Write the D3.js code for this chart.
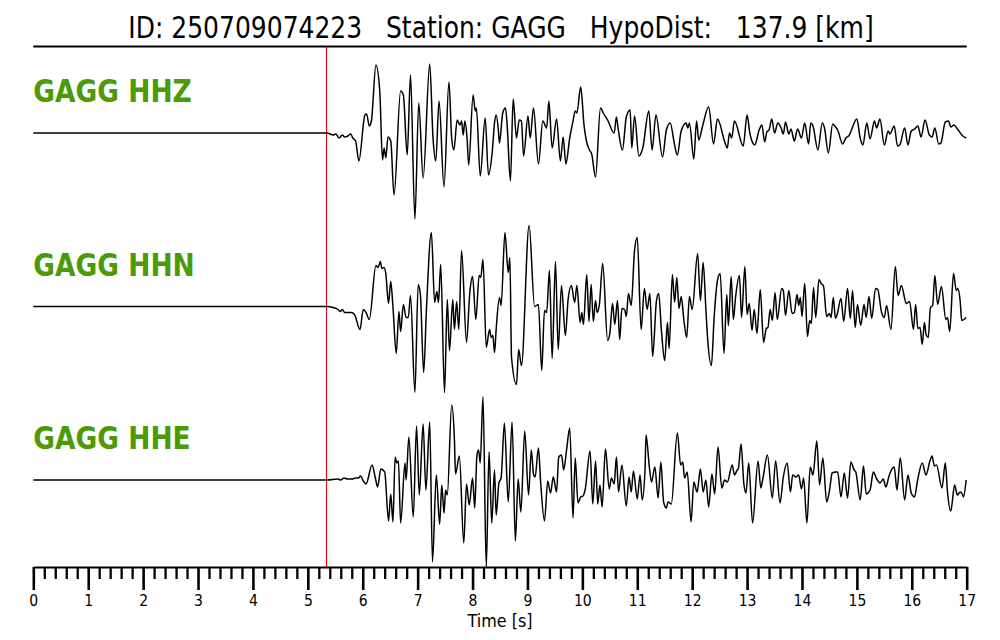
<!DOCTYPE html>
<html><head><meta charset="utf-8">
<script src="https://cdn.jsdelivr.net/npm/d3@7"></script>
<style>
html,body{margin:0;padding:0;background:#fff;}
svg{display:block;font-family:"DejaVu Sans",sans-serif;}
</style></head>
<body><svg id="chart" width="1000" height="640"></svg>
<script>
// ---------------- data ----------------
const titleText = "ID: 250709074223   Station: GAGG   HypoDist:   137.9 [km]";
const station = "GAGG";
const channels = ["HHZ", "HHN", "HHE"];
const pickTime = 5.34;               // P pick [s]
const timeDomain = [0, 17];
const majorTicks = [0,1,2,3,4,5,6,7,8,9,10,11,12,13,14,15,16,17];
const xLabel = "Time [s]";

// [time s, amplitude counts]
const hhz = [[0,0],[5.35,0],[5.46,-2],[5.51,-1],[5.57,-5],[5.63,-2],[5.67,-4],[5.73,-3],[5.78,-1],[5.82,-5],[5.87,-8],[5.93,-28],[6.04,18],[6.07,19],[6.12,7],[6.16,13],[6.24,68],[6.31,42],[6.36,-27],[6.39,-15],[6.42,-25],[6.46,-4],[6.51,-8],[6.57,-62],[6.69,42],[6.74,38],[6.81,-22],[6.87,58],[6.95,-86],[7.02,30],[7.10,-45],[7.22,69],[7.28,-5],[7.33,-28],[7.39,32],[7.48,-54],[7.57,51],[7.62,-5],[7.66,-17],[7.72,13],[7.77,8],[7.80,12],[7.83,-2],[7.86,12],[7.90,-5],[7.93,-32],[8.01,38],[8.05,22],[8.07,25],[8.14,-43],[8.23,15],[8.29,-42],[8.36,-18],[8.40,10],[8.43,18],[8.47,3],[8.49,-10],[8.55,20],[8.60,25],[8.63,8],[8.69,-48],[8.74,34],[8.80,-5],[8.85,13],[8.89,12],[8.93,-23],[9.01,17],[9.05,-5],[9.11,25],[9.20,-31],[9.28,12],[9.35,5],[9.39,32],[9.45,-15],[9.53,14],[9.60,-28],[9.65,-4],[9.70,-31],[9.77,-5],[9.83,12],[9.87,22],[9.90,20],[9.97,46],[10.03,8],[10.07,-7],[10.13,-17],[10.17,-21],[10.24,-44],[10.33,25],[10.38,20],[10.46,13],[10.58,0],[10.62,16],[10.65,5],[10.73,-17],[10.80,16],[10.87,23],[10.90,-15],[10.95,17],[11.03,-23],[11.10,-15],[11.21,22],[11.27,-17],[11.34,18],[11.46,-24],[11.53,3],[11.60,10],[11.68,-12],[11.73,-22],[11.80,2],[11.89,10],[11.92,5],[11.95,10],[12.03,-26],[12.08,12],[12.12,-7],[12.19,7],[12.30,26],[12.39,-11],[12.46,14],[12.60,-10],[12.64,-15],[12.68,0],[12.72,-5],[12.77,12],[12.93,-13],[13.00,18],[13.05,0],[13.14,-12],[13.22,3],[13.27,8],[13.32,-9],[13.36,1],[13.40,3],[13.45,14],[13.50,0],[13.56,10],[13.62,5],[13.66,-1],[13.70,11],[13.76,-1],[13.80,4],[13.86,-8],[13.92,4],[13.99,-5],[14.05,10],[14.12,-11],[14.16,10],[14.20,7],[14.29,-17],[14.37,10],[14.41,5],[14.48,-20],[14.56,9],[14.61,6],[14.65,3],[14.74,-11],[14.80,-5],[14.85,-3],[15.00,14],[15.06,-5],[15.11,-12],[15.18,10],[15.24,-6],[15.32,12],[15.36,5],[15.42,14],[15.50,-12],[15.57,2],[15.60,-1],[15.68,7],[15.74,-13],[15.78,-12],[15.87,5],[15.93,-12],[15.99,2],[16.05,4],[16.11,7],[16.17,-4],[16.24,13],[16.32,-2],[16.37,-4],[16.42,5],[16.49,-11],[16.53,-10],[16.61,11],[16.67,12],[16.71,6],[16.77,8],[16.83,4],[16.93,-3],[16.99,-5]];

const hhn = [[0,0],[5.35,0],[5.46,-1],[5.55,-3],[5.59,-5],[5.63,-3],[5.67,-6],[5.73,-6],[5.79,-6],[5.85,-8],[5.95,-23],[6.01,-3],[6.06,-6],[6.12,-13],[6.24,41],[6.28,39],[6.32,45],[6.35,38],[6.39,39],[6.42,33],[6.47,3],[6.51,25],[6.55,0],[6.61,-47],[6.66,-5],[6.69,-25],[6.74,2],[6.79,-11],[6.83,-11],[6.87,11],[6.95,-86],[7.01,22],[7.05,12],[7.11,-66],[7.16,-3],[7.25,74],[7.31,4],[7.35,15],[7.38,4],[7.42,42],[7.49,-86],[7.54,7],[7.58,-44],[7.64,7],[7.67,-23],[7.71,5],[7.75,-23],[7.80,56],[7.89,-36],[7.95,14],[8.00,30],[8.06,-13],[8.12,31],[8.15,29],[8.19,47],[8.25,-41],[8.31,-23],[8.34,-31],[8.37,-29],[8.40,-46],[8.43,-23],[8.49,9],[8.52,1],[8.59,74],[8.65,34],[8.68,49],[8.71,-51],[8.80,-78],[8.84,-43],[8.89,-59],[9.03,81],[9.13,0],[9.20,2],[9.26,-64],[9.31,-4],[9.35,-6],[9.40,36],[9.45,-52],[9.51,45],[9.56,-43],[9.62,21],[9.69,-29],[9.74,7],[9.80,21],[9.86,4],[9.90,21],[9.96,-16],[9.99,-6],[10.02,-18],[10.08,32],[10.12,-15],[10.16,22],[10.20,-15],[10.24,6],[10.27,-6],[10.31,2],[10.37,43],[10.46,-34],[10.50,-27],[10.55,3],[10.59,-18],[10.64,6],[10.68,-33],[10.72,-2],[10.77,-3],[10.80,-10],[10.84,13],[10.89,1],[10.95,56],[11.00,69],[11.07,-23],[11.13,18],[11.18,-3],[11.23,13],[11.28,-50],[11.35,6],[11.39,13],[11.44,-24],[11.50,-54],[11.55,-16],[11.58,-42],[11.64,32],[11.68,4],[11.72,29],[11.76,-2],[11.80,10],[11.85,-14],[11.90,-31],[11.95,10],[12.00,-3],[12.10,53],[12.15,6],[12.20,44],[12.25,-3],[12.28,-31],[12.35,-59],[12.40,-11],[12.46,26],[12.51,33],[12.58,-47],[12.63,12],[12.66,-19],[12.71,30],[12.75,-13],[12.79,9],[12.86,31],[12.90,-11],[12.96,40],[13.00,-8],[13.04,3],[13.09,-24],[13.13,-3],[13.18,-27],[13.24,17],[13.30,-36],[13.35,-22],[13.38,-21],[13.42,-3],[13.46,-14],[13.51,14],[13.55,-13],[13.63,18],[13.66,16],[13.70,-9],[13.76,16],[13.82,-7],[13.86,-6],[13.91,12],[13.94,1],[13.97,9],[14.00,-10],[14.05,23],[14.10,-30],[14.14,-14],[14.17,-17],[14.21,19],[14.25,-11],[14.31,27],[14.35,23],[14.39,21],[14.45,-10],[14.50,-7],[14.53,-11],[14.57,9],[14.61,-12],[14.64,-8],[14.71,8],[14.76,-15],[14.83,18],[14.88,-12],[14.92,16],[14.97,-21],[15.01,2],[15.07,-19],[15.13,2],[15.17,-11],[15.22,10],[15.27,-12],[15.34,18],[15.38,17],[15.45,-6],[15.50,-11],[15.54,1],[15.62,-23],[15.70,40],[15.75,11],[15.81,21],[15.90,3],[15.96,5],[16.03,-23],[16.07,2],[16.11,-22],[16.15,-21],[16.19,-38],[16.23,-16],[16.26,-28],[16.30,-31],[16.34,-1],[16.38,1],[16.42,31],[16.47,2],[16.54,20],[16.62,-13],[16.65,-11],[16.69,-25],[16.76,33],[16.81,16],[16.84,18],[16.88,6],[16.91,-14],[16.95,-13],[16.99,-11]];

const hhe = [[0,0],[5.35,0],[5.55,1],[5.60,0],[5.66,2],[5.72,1],[5.80,1],[5.88,2],[5.92,2],[5.96,4],[6.01,-1],[6.06,-4],[6.17,15],[6.23,2],[6.27,-7],[6.33,11],[6.40,8],[6.47,-41],[6.51,-14],[6.55,-42],[6.59,23],[6.62,17],[6.65,19],[6.69,-43],[6.77,17],[6.79,0],[6.84,43],[6.92,-37],[6.98,54],[7.03,-15],[7.10,56],[7.15,-10],[7.22,58],[7.27,-82],[7.34,5],[7.40,-44],[7.44,-5],[7.48,-33],[7.51,-10],[7.54,-15],[7.62,75],[7.67,40],[7.69,6],[7.76,24],[7.84,-63],[7.89,-4],[7.94,-25],[8.00,2],[8.04,-28],[8.08,25],[8.11,30],[8.14,17],[8.19,83],[8.25,-87],[8.30,28],[8.35,-43],[8.40,10],[8.43,-35],[8.48,-3],[8.52,2],[8.58,57],[8.65,-22],[8.72,58],[8.78,-61],[8.83,1],[8.88,-32],[8.95,49],[9.02,-15],[9.07,30],[9.11,6],[9.14,3],[9.20,32],[9.24,-2],[9.31,-41],[9.37,-1],[9.42,-13],[9.47,3],[9.53,-12],[9.57,23],[9.62,25],[9.66,10],[9.71,29],[9.77,52],[9.83,-38],[9.87,22],[9.92,-23],[9.97,-17],[10.01,-16],[10.05,-10],[10.14,29],[10.19,-24],[10.24,19],[10.28,-24],[10.32,-5],[10.36,-27],[10.42,31],[10.49,-9],[10.53,2],[10.58,-4],[10.62,23],[10.66,-12],[10.72,15],[10.80,-26],[10.85,3],[10.89,-12],[10.93,9],[11.00,-19],[11.05,5],[11.09,-20],[11.14,9],[11.16,45],[11.22,13],[11.26,-2],[11.32,13],[11.38,-18],[11.43,18],[11.48,-22],[11.53,-28],[11.56,-22],[11.62,-24],[11.73,47],[11.79,15],[11.83,18],[11.86,2],[11.91,8],[11.98,-42],[12.03,-2],[12.09,-12],[12.15,11],[12.20,-12],[12.25,0],[12.30,-27],[12.36,6],[12.41,-14],[12.47,33],[12.54,-8],[12.59,0],[12.64,-2],[12.73,15],[12.77,5],[12.82,10],[12.84,11],[12.89,36],[12.94,-3],[12.98,-13],[13.03,17],[13.10,-43],[13.20,19],[13.25,-8],[13.29,2],[13.37,25],[13.46,-18],[13.52,19],[13.60,-23],[13.66,3],[13.73,17],[13.79,-12],[13.83,5],[13.89,3],[13.94,5],[13.99,-9],[14.03,2],[14.09,-43],[14.15,13],[14.20,5],[14.27,39],[14.32,-5],[14.38,22],[14.45,-22],[14.50,-11],[14.55,7],[14.61,8],[14.65,8],[14.71,-17],[14.77,7],[14.83,-18],[14.89,18],[14.95,10],[14.98,8],[15.06,-20],[15.12,14],[15.17,-14],[15.24,-10],[15.30,8],[15.36,1],[15.42,-3],[15.48,1],[15.53,-7],[15.58,3],[15.62,9],[15.68,13],[15.73,-10],[15.79,22],[15.87,-20],[15.93,5],[15.99,-13],[16.05,-17],[16.10,-2],[16.19,17],[16.26,5],[16.33,19],[16.37,24],[16.41,14],[16.45,15],[16.55,-8],[16.61,17],[16.65,-12],[16.71,-31],[16.78,-5],[16.83,-15],[16.88,-12],[16.92,-14],[16.94,-17],[16.99,0]];

const traces = {HHZ: hhz, HHN: hhn, HHE: hhe};

// ---------------- drawing ----------------
const svg = d3.select("#chart");
const W = 1000, H = 640;
const left = 33.3, right = 966.7;
const axisY = 567, ruleY = 46.5;
const stretchY = 1.2;   // glyphs in the reference are vertically stretched

const x = d3.scaleLinear().domain(timeDomain).range([left, right]);
const yBase = d3.scalePoint().domain(channels).range([133, 480]);
const amp = d3.scaleLinear().domain([-100, 100]).range([100, -100]);

svg.append("rect").attr("width", W).attr("height", H).attr("fill", "#fff");

function stretchedText(px, py, sy) {
  return `translate(${px},${py}) scale(1,${sy || stretchY})`;
}

// title
svg.append("text")
  .attr("transform", stretchedText(501, 37.5))
  .attr("text-anchor", "middle")
  .attr("font-size", 25)
  .attr("fill", "#000")
  .style("white-space", "pre")
  .attr("xml:space", "preserve")
  .text(titleText);

svg.append("line")
  .attr("x1", left).attr("x2", right)
  .attr("y1", ruleY).attr("y2", ruleY)
  .attr("stroke", "#000").attr("stroke-width", 1.8);

// pick line
svg.append("line")
  .attr("x1", x(pickTime)).attr("x2", x(pickTime))
  .attr("y1", ruleY).attr("y2", axisY)
  .attr("stroke", "#e8000b").attr("stroke-width", 1.1);

// traces
const line = d3.line()
  .x(d => x(d[0]))
  .curve(d3.curveMonotoneX);

channels.forEach(ch => {
  const b = yBase(ch);
  svg.append("path")
    .datum(traces[ch])
    .attr("fill", "none")
    .attr("stroke", "#000")
    .attr("stroke-width", 1.5)
    .attr("stroke-linejoin", "round")
    .attr("d", line.y(d => b + amp(d[1])));
  svg.append("text")
    .attr("transform", stretchedText(left, b - 31))
    .attr("font-size", 26.5)
    .attr("font-weight", "bold")
    .attr("fill", "#4b9a06")
    .text(station + " " + ch);
});

// axis
const minorTicks = d3.range(0, 85 + 1).map(i => i * 0.2).filter(v => Math.abs(v - Math.round(v)) > 1e-6);
const gMinor = svg.append("g").attr("transform", `translate(0,${axisY})`)
  .call(d3.axisBottom(x).tickValues(minorTicks).tickSize(12).tickSizeOuter(0).tickFormat(""));
gMinor.select(".domain").remove();
gMinor.selectAll(".tick line").attr("stroke-width", 2.3);

const gMajor = svg.append("g").attr("transform", `translate(0,${axisY})`)
  .call(d3.axisBottom(x).tickValues(majorTicks).tickSize(23).tickSizeOuter(0).tickFormat(d3.format("d")));
gMajor.select(".domain").attr("stroke-width", 1.8);
gMajor.selectAll(".tick line").attr("stroke-width", 2.6);
gMajor.selectAll(".tick text")
  .attr("y", null).attr("dy", null)
  .attr("transform", `translate(0,38.5) scale(1,1.15)`)
  .attr("font-size", 14).attr("font-family", "DejaVu Sans").attr("fill", "#000");

svg.append("text")
  .attr("transform", stretchedText(x(8.5), 627, 1.1))
  .attr("text-anchor", "middle")
  .attr("font-size", 16)
  .attr("fill", "#000")
  .text(xLabel);
</script></body></html>
